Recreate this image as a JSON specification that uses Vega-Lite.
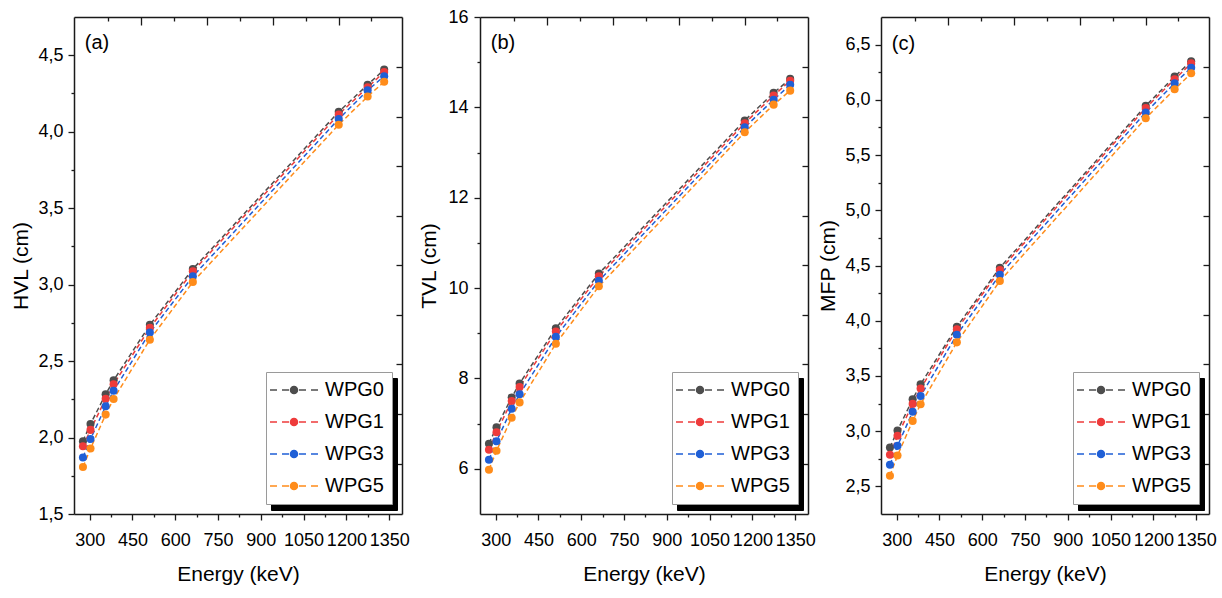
{
  "$schema": "https://vega.github.io/schema/vega-lite/v6.json",
  "padding": {"left": 10, "top": 8, "right": 5, "bottom": 5},
  "datasets": {
    "hvl": [
      {"E": 276.4, "s": "WPG0", "v": 1.976}, {"E": 276.4, "s": "WPG1", "v": 1.943}, {"E": 276.4, "s": "WPG3", "v": 1.870}, {"E": 276.4, "s": "WPG5", "v": 1.807},
      {"E": 302.9, "s": "WPG0", "v": 2.089}, {"E": 302.9, "s": "WPG1", "v": 2.050}, {"E": 302.9, "s": "WPG3", "v": 1.990}, {"E": 302.9, "s": "WPG5", "v": 1.928},
      {"E": 356.0, "s": "WPG0", "v": 2.283}, {"E": 356.0, "s": "WPG1", "v": 2.254}, {"E": 356.0, "s": "WPG3", "v": 2.204}, {"E": 356.0, "s": "WPG5", "v": 2.150},
      {"E": 383.9, "s": "WPG0", "v": 2.374}, {"E": 383.9, "s": "WPG1", "v": 2.348}, {"E": 383.9, "s": "WPG3", "v": 2.306}, {"E": 383.9, "s": "WPG5", "v": 2.252},
      {"E": 511.0, "s": "WPG0", "v": 2.737}, {"E": 511.0, "s": "WPG1", "v": 2.717}, {"E": 511.0, "s": "WPG3", "v": 2.687}, {"E": 511.0, "s": "WPG5", "v": 2.640},
      {"E": 661.7, "s": "WPG0", "v": 3.102}, {"E": 661.7, "s": "WPG1", "v": 3.087}, {"E": 661.7, "s": "WPG3", "v": 3.054}, {"E": 661.7, "s": "WPG5", "v": 3.017},
      {"E": 1173.2, "s": "WPG0", "v": 4.130}, {"E": 1173.2, "s": "WPG1", "v": 4.113}, {"E": 1173.2, "s": "WPG3", "v": 4.083}, {"E": 1173.2, "s": "WPG5", "v": 4.046},
      {"E": 1274.5, "s": "WPG0", "v": 4.307}, {"E": 1274.5, "s": "WPG1", "v": 4.290}, {"E": 1274.5, "s": "WPG3", "v": 4.270}, {"E": 1274.5, "s": "WPG5", "v": 4.230},
      {"E": 1332.5, "s": "WPG0", "v": 4.406}, {"E": 1332.5, "s": "WPG1", "v": 4.390}, {"E": 1332.5, "s": "WPG3", "v": 4.363}, {"E": 1332.5, "s": "WPG5", "v": 4.326}
    ],
    "tvl": [
      {"E": 276.4, "s": "WPG0", "v": 6.556}, {"E": 276.4, "s": "WPG1", "v": 6.42}, {"E": 276.4, "s": "WPG3", "v": 6.20}, {"E": 276.4, "s": "WPG5", "v": 5.98},
      {"E": 302.9, "s": "WPG0", "v": 6.92}, {"E": 302.9, "s": "WPG1", "v": 6.81}, {"E": 302.9, "s": "WPG3", "v": 6.61}, {"E": 302.9, "s": "WPG5", "v": 6.40},
      {"E": 356.0, "s": "WPG0", "v": 7.58}, {"E": 356.0, "s": "WPG1", "v": 7.50}, {"E": 356.0, "s": "WPG3", "v": 7.33}, {"E": 356.0, "s": "WPG5", "v": 7.13},
      {"E": 383.9, "s": "WPG0", "v": 7.89}, {"E": 383.9, "s": "WPG1", "v": 7.81}, {"E": 383.9, "s": "WPG3", "v": 7.65}, {"E": 383.9, "s": "WPG5", "v": 7.47},
      {"E": 511.0, "s": "WPG0", "v": 9.11}, {"E": 511.0, "s": "WPG1", "v": 9.04}, {"E": 511.0, "s": "WPG3", "v": 8.92}, {"E": 511.0, "s": "WPG5", "v": 8.77},
      {"E": 661.7, "s": "WPG0", "v": 10.32}, {"E": 661.7, "s": "WPG1", "v": 10.26}, {"E": 661.7, "s": "WPG3", "v": 10.16}, {"E": 661.7, "s": "WPG5", "v": 10.04},
      {"E": 1173.2, "s": "WPG0", "v": 13.71}, {"E": 1173.2, "s": "WPG1", "v": 13.65}, {"E": 1173.2, "s": "WPG3", "v": 13.56}, {"E": 1173.2, "s": "WPG5", "v": 13.45},
      {"E": 1274.5, "s": "WPG0", "v": 14.32}, {"E": 1274.5, "s": "WPG1", "v": 14.26}, {"E": 1274.5, "s": "WPG3", "v": 14.17}, {"E": 1274.5, "s": "WPG5", "v": 14.06},
      {"E": 1332.5, "s": "WPG0", "v": 14.63}, {"E": 1332.5, "s": "WPG1", "v": 14.59}, {"E": 1332.5, "s": "WPG3", "v": 14.50}, {"E": 1332.5, "s": "WPG5", "v": 14.37}
    ],
    "mfp": [
      {"E": 276.4, "s": "WPG0", "v": 2.852}, {"E": 276.4, "s": "WPG1", "v": 2.786}, {"E": 276.4, "s": "WPG3", "v": 2.696}, {"E": 276.4, "s": "WPG5", "v": 2.596},
      {"E": 302.9, "s": "WPG0", "v": 3.006}, {"E": 302.9, "s": "WPG1", "v": 2.958}, {"E": 302.9, "s": "WPG3", "v": 2.867}, {"E": 302.9, "s": "WPG5", "v": 2.780},
      {"E": 356.0, "s": "WPG0", "v": 3.289}, {"E": 356.0, "s": "WPG1", "v": 3.247}, {"E": 356.0, "s": "WPG3", "v": 3.175}, {"E": 356.0, "s": "WPG5", "v": 3.093},
      {"E": 383.9, "s": "WPG0", "v": 3.425}, {"E": 383.9, "s": "WPG1", "v": 3.386}, {"E": 383.9, "s": "WPG3", "v": 3.319}, {"E": 383.9, "s": "WPG5", "v": 3.244},
      {"E": 511.0, "s": "WPG0", "v": 3.946}, {"E": 511.0, "s": "WPG1", "v": 3.922}, {"E": 511.0, "s": "WPG3", "v": 3.873}, {"E": 511.0, "s": "WPG5", "v": 3.804},
      {"E": 661.7, "s": "WPG0", "v": 4.480}, {"E": 661.7, "s": "WPG1", "v": 4.458}, {"E": 661.7, "s": "WPG3", "v": 4.416}, {"E": 661.7, "s": "WPG5", "v": 4.360},
      {"E": 1173.2, "s": "WPG0", "v": 5.946}, {"E": 1173.2, "s": "WPG1", "v": 5.925}, {"E": 1173.2, "s": "WPG3", "v": 5.886}, {"E": 1173.2, "s": "WPG5", "v": 5.834},
      {"E": 1274.5, "s": "WPG0", "v": 6.211}, {"E": 1274.5, "s": "WPG1", "v": 6.187}, {"E": 1274.5, "s": "WPG3", "v": 6.150}, {"E": 1274.5, "s": "WPG5", "v": 6.096},
      {"E": 1332.5, "s": "WPG0", "v": 6.350}, {"E": 1332.5, "s": "WPG1", "v": 6.330}, {"E": 1332.5, "s": "WPG3", "v": 6.290}, {"E": 1332.5, "s": "WPG5", "v": 6.240}
    ]
  },
  "spacing": 8,
  "resolve": {"scale": {"color": "independent", "shape": "independent"}, "legend": {"color": "independent", "shape": "independent"}},
  "hconcat": [
    {
      "width": 328, "height": 497,
      "data": {"name": "hvl"},
      "resolve": {"axis": {"x": "independent", "y": "independent"}},
      "layer": [
        {
          "mark": {"type": "line", "strokeDash": [5, 3], "strokeWidth": 1.5},
          "encoding": {
            "x": {"field": "E", "type": "quantitative", "scale": {"domain": [245, 1395], "nice": false, "zero": false},
              "axis": {"orient": "bottom", "values": [300, 450, 600, 750, 900, 1050, 1200, 1350], "format": "d", "title": "Energy (keV)", "tickSize": 6, "labelPadding": 11, "titlePadding": 14}},
            "y": {"field": "v", "type": "quantitative", "scale": {"domain": [1.5, 4.75], "nice": false, "zero": false},
              "axis": {"orient": "left", "values": [1.5, 2, 2.5, 3, 3.5, 4, 4.5], "labelExpr": "replace(format(datum.value, '.1f'), '.', ',')", "title": "HVL (cm)", "tickSize": 6, "labelPadding": 5, "titlePadding": 6}},
            "color": {"field": "s", "type": "nominal", "scale": {"domain": ["WPG0", "WPG1", "WPG3", "WPG5"], "range": ["#4d4d4d", "#ee3b3b", "#1f5fd6", "#ff8c1a"]},
              "legend": {"title": null, "orient": "bottom-right", "offset": 10, "zindex": 2, "fillColor": "white", "strokeColor": "#9a9a9a", "symbolType": "M-24 0H-17M-12 0H-5M5 0H12M17 0H24M-3.5 0A3.5 3.5 0 1 1 3.5 0A3.5 3.5 0 1 1 -3.5 0ZM-2 0A2 2 0 1 1 2 0A2 2 0 1 1 -2 0ZM-0.7 0A0.7 0.7 0 1 1 0.7 0A0.7 0.7 0 1 1 -0.7 0Z", "symbolSize": 4, "symbolStrokeWidth": 1.5, "symbolOffset": 10, "labelOffset": 21}}
          }
        },
        {
          "mark": {"type": "point", "filled": true, "size": 65, "opacity": 1},
          "encoding": {
            "x": {"field": "E", "type": "quantitative", "axis": null},
            "y": {"field": "v", "type": "quantitative", "axis": null},
            "color": {"field": "s", "type": "nominal",
              "legend": {"title": null, "orient": "bottom-right", "offset": 10, "zindex": 2, "fillColor": "white", "strokeColor": "#9a9a9a", "symbolType": "M-24 0H-17M-12 0H-5M5 0H12M17 0H24M-3.5 0A3.5 3.5 0 1 1 3.5 0A3.5 3.5 0 1 1 -3.5 0ZM-2 0A2 2 0 1 1 2 0A2 2 0 1 1 -2 0ZM-0.7 0A0.7 0.7 0 1 1 0.7 0A0.7 0.7 0 1 1 -0.7 0Z", "symbolSize": 4, "symbolStrokeWidth": 1.5, "symbolOffset": 10, "labelOffset": 21}}
          }
        },
        {
          "mark": {"type": "point", "opacity": 0, "size": 0.01},
          "encoding": {
            "x": {"field": "E", "type": "quantitative", "axis": {"orient": "bottom", "values": [375, 525, 675, 825, 975, 1125, 1275], "labels": false, "domain": false, "tickSize": 3, "title": null}},
            "y": {"field": "v", "type": "quantitative", "axis": {"orient": "left", "values": [1.75, 2.25, 2.75, 3.25, 3.75, 4.25], "labels": false, "domain": false, "tickSize": 3, "title": null}},
            "shape": {"field": "s", "type": "nominal", "scale": {"range": ["M-24 0H24", "M-24 0H24", "M-24 0H24", "M-24 0H24"]},
              "legend": {"title": null, "orient": "none", "legendX": 197, "legendY": 361, "zindex": 1, "fillColor": "black", "strokeColor": "black", "labelColor": "black", "symbolSize": 4, "symbolStrokeWidth": 1.5, "symbolOffset": 10, "labelOffset": 21}}
          }
        },
        {
          "mark": {"type": "point", "opacity": 0},
          "encoding": {
            "x": {"field": "E", "type": "quantitative", "axis": {"orient": "top", "values": [480, 711, 942, 1173], "labels": false, "domain": true, "tickSize": -8, "title": null}},
            "y": {"field": "v", "type": "quantitative", "axis": {"orient": "right", "values": [4.423, 4.099, 3.775, 3.451, 3.126, 2.802, 2.478, 2.154, 1.830], "labels": false, "domain": true, "tickSize": -6, "title": null}}
          }
        },
        {
          "mark": {"type": "point", "opacity": 0},
          "encoding": {
            "x": {"field": "E", "type": "quantitative", "axis": {"orient": "top", "values": [365, 597, 828, 1058, 1286], "labels": false, "domain": false, "tickSize": -4, "title": null}},
            "y": {"field": "v", "type": "quantitative", "axis": null}
          }
        },
        {
          "data": {"values": [{"t": "(a)", "E": 283, "v": 4.58}]},
          "mark": {"type": "text", "align": "left", "baseline": "middle", "fontSize": 20, "color": "black"},
          "encoding": {
            "x": {"field": "E", "type": "quantitative", "axis": null},
            "y": {"field": "v", "type": "quantitative", "axis": null},
            "text": {"field": "t"}
          }
        }
      ]
    },
    {
      "spacing": 1,
      "resolve": {"scale": {"color": "independent", "shape": "independent"}, "legend": {"color": "independent", "shape": "independent"}},
      "hconcat": [
        {
          "width": 328, "height": 497,
          "data": {"name": "tvl"},
          "resolve": {"axis": {"x": "independent", "y": "independent"}},
          "layer": [
            {
              "mark": {"type": "line", "strokeDash": [5, 3], "strokeWidth": 1.5},
              "encoding": {
                "x": {"field": "E", "type": "quantitative", "scale": {"domain": [245, 1395], "nice": false, "zero": false},
                  "axis": {"orient": "bottom", "values": [300, 450, 600, 750, 900, 1050, 1200, 1350], "format": "d", "title": "Energy (keV)", "tickSize": 6, "labelPadding": 11, "titlePadding": 14}},
                "y": {"field": "v", "type": "quantitative", "scale": {"domain": [5, 16], "nice": false, "zero": false},
                  "axis": {"orient": "left", "values": [6, 8, 10, 12, 14, 16], "format": "d", "title": "TVL (cm)", "tickSize": 6, "labelPadding": 6, "titlePadding": 8}},
                "color": {"field": "s", "type": "nominal", "scale": {"domain": ["WPG0", "WPG1", "WPG3", "WPG5"], "range": ["#4d4d4d", "#ee3b3b", "#1f5fd6", "#ff8c1a"]},
                  "legend": {"title": null, "orient": "bottom-right", "offset": 10, "zindex": 2, "fillColor": "white", "strokeColor": "#9a9a9a", "symbolType": "M-24 0H-17M-12 0H-5M5 0H12M17 0H24M-3.5 0A3.5 3.5 0 1 1 3.5 0A3.5 3.5 0 1 1 -3.5 0ZM-2 0A2 2 0 1 1 2 0A2 2 0 1 1 -2 0ZM-0.7 0A0.7 0.7 0 1 1 0.7 0A0.7 0.7 0 1 1 -0.7 0Z", "symbolSize": 4, "symbolStrokeWidth": 1.5, "symbolOffset": 10, "labelOffset": 21}}
              }
            },
            {
              "mark": {"type": "point", "filled": true, "size": 65, "opacity": 1},
              "encoding": {
                "x": {"field": "E", "type": "quantitative", "axis": null},
                "y": {"field": "v", "type": "quantitative", "axis": null},
                "color": {"field": "s", "type": "nominal",
                  "legend": {"title": null, "orient": "bottom-right", "offset": 10, "zindex": 2, "fillColor": "white", "strokeColor": "#9a9a9a", "symbolType": "M-24 0H-17M-12 0H-5M5 0H12M17 0H24M-3.5 0A3.5 3.5 0 1 1 3.5 0A3.5 3.5 0 1 1 -3.5 0ZM-2 0A2 2 0 1 1 2 0A2 2 0 1 1 -2 0ZM-0.7 0A0.7 0.7 0 1 1 0.7 0A0.7 0.7 0 1 1 -0.7 0Z", "symbolSize": 4, "symbolStrokeWidth": 1.5, "symbolOffset": 10, "labelOffset": 21}}
              }
            },
            {
              "mark": {"type": "point", "opacity": 0, "size": 0.01},
              "encoding": {
                "x": {"field": "E", "type": "quantitative", "axis": {"orient": "bottom", "values": [375, 525, 675, 825, 975, 1125, 1275], "labels": false, "domain": false, "tickSize": 3, "title": null}},
                "y": {"field": "v", "type": "quantitative", "axis": {"orient": "left", "values": [7, 9, 11, 13, 15], "labels": false, "domain": false, "tickSize": 3, "title": null}},
                "shape": {"field": "s", "type": "nominal", "scale": {"range": ["M-24 0H24", "M-24 0H24", "M-24 0H24", "M-24 0H24"]},
                  "legend": {"title": null, "orient": "none", "legendX": 197, "legendY": 361, "zindex": 1, "fillColor": "black", "strokeColor": "black", "labelColor": "black", "symbolSize": 4, "symbolStrokeWidth": 1.5, "symbolOffset": 10, "labelOffset": 21}}
              }
            },
            {
              "mark": {"type": "point", "opacity": 0},
              "encoding": {
                "x": {"field": "E", "type": "quantitative", "axis": {"orient": "top", "values": [480, 711, 942, 1173], "labels": false, "domain": true, "tickSize": -8, "title": null}},
                "y": {"field": "v", "type": "quantitative", "axis": {"orient": "right", "values": [14.894, 13.796, 12.699, 11.602, 10.505, 9.407, 8.310, 7.213, 6.115], "labels": false, "domain": true, "tickSize": -6, "title": null}}
              }
            },
            {
              "mark": {"type": "point", "opacity": 0},
              "encoding": {
                "x": {"field": "E", "type": "quantitative", "axis": {"orient": "top", "values": [365, 597, 828, 1058, 1286], "labels": false, "domain": false, "tickSize": -4, "title": null}},
                "y": {"field": "v", "type": "quantitative", "axis": null}
              }
            },
            {
              "data": {"values": [{"t": "(b)", "E": 283, "v": 15.42}]},
              "mark": {"type": "text", "align": "left", "baseline": "middle", "fontSize": 20, "color": "black"},
              "encoding": {
                "x": {"field": "E", "type": "quantitative", "axis": null},
                "y": {"field": "v", "type": "quantitative", "axis": null},
                "text": {"field": "t"}
              }
            }
          ]
        },
        {
          "width": 328, "height": 497,
          "data": {"name": "mfp"},
          "resolve": {"axis": {"x": "independent", "y": "independent"}},
          "layer": [
            {
              "mark": {"type": "line", "strokeDash": [5, 3], "strokeWidth": 1.5},
              "encoding": {
                "x": {"field": "E", "type": "quantitative", "scale": {"domain": [245, 1395], "nice": false, "zero": false},
                  "axis": {"orient": "bottom", "values": [300, 450, 600, 750, 900, 1050, 1200, 1350], "format": "d", "title": "Energy (keV)", "tickSize": 6, "labelPadding": 11, "titlePadding": 14}},
                "y": {"field": "v", "type": "quantitative", "scale": {"domain": [2.25, 6.75], "nice": false, "zero": false},
                  "axis": {"orient": "left", "values": [2.5, 3, 3.5, 4, 4.5, 5, 5.5, 6, 6.5], "labelExpr": "replace(format(datum.value, '.1f'), '.', ',')", "title": "MFP (cm)", "tickSize": 6, "labelPadding": 5, "titlePadding": 6}},
                "color": {"field": "s", "type": "nominal", "scale": {"domain": ["WPG0", "WPG1", "WPG3", "WPG5"], "range": ["#4d4d4d", "#ee3b3b", "#1f5fd6", "#ff8c1a"]},
                  "legend": {"title": null, "orient": "bottom-right", "offset": 10, "zindex": 2, "fillColor": "white", "strokeColor": "#9a9a9a", "symbolType": "M-24 0H-17M-12 0H-5M5 0H12M17 0H24M-3.5 0A3.5 3.5 0 1 1 3.5 0A3.5 3.5 0 1 1 -3.5 0ZM-2 0A2 2 0 1 1 2 0A2 2 0 1 1 -2 0ZM-0.7 0A0.7 0.7 0 1 1 0.7 0A0.7 0.7 0 1 1 -0.7 0Z", "symbolSize": 4, "symbolStrokeWidth": 1.5, "symbolOffset": 10, "labelOffset": 21}}
              }
            },
            {
              "mark": {"type": "point", "filled": true, "size": 65, "opacity": 1},
              "encoding": {
                "x": {"field": "E", "type": "quantitative", "axis": null},
                "y": {"field": "v", "type": "quantitative", "axis": null},
                "color": {"field": "s", "type": "nominal",
                  "legend": {"title": null, "orient": "bottom-right", "offset": 10, "zindex": 2, "fillColor": "white", "strokeColor": "#9a9a9a", "symbolType": "M-24 0H-17M-12 0H-5M5 0H12M17 0H24M-3.5 0A3.5 3.5 0 1 1 3.5 0A3.5 3.5 0 1 1 -3.5 0ZM-2 0A2 2 0 1 1 2 0A2 2 0 1 1 -2 0ZM-0.7 0A0.7 0.7 0 1 1 0.7 0A0.7 0.7 0 1 1 -0.7 0Z", "symbolSize": 4, "symbolStrokeWidth": 1.5, "symbolOffset": 10, "labelOffset": 21}}
              }
            },
            {
              "mark": {"type": "point", "opacity": 0, "size": 0.01},
              "encoding": {
                "x": {"field": "E", "type": "quantitative", "axis": {"orient": "bottom", "values": [375, 525, 675, 825, 975, 1125, 1275], "labels": false, "domain": false, "tickSize": 3, "title": null}},
                "y": {"field": "v", "type": "quantitative", "axis": {"orient": "left", "values": [2.75, 3.25, 3.75, 4.25, 4.75, 5.25, 5.75, 6.25], "labels": false, "domain": false, "tickSize": 3, "title": null}},
                "shape": {"field": "s", "type": "nominal", "scale": {"range": ["M-24 0H24", "M-24 0H24", "M-24 0H24", "M-24 0H24"]},
                  "legend": {"title": null, "orient": "none", "legendX": 197, "legendY": 361, "zindex": 1, "fillColor": "black", "strokeColor": "black", "labelColor": "black", "symbolSize": 4, "symbolStrokeWidth": 1.5, "symbolOffset": 10, "labelOffset": 21}}
              }
            },
            {
              "mark": {"type": "point", "opacity": 0},
              "encoding": {
                "x": {"field": "E", "type": "quantitative", "axis": {"orient": "top", "values": [480, 711, 942, 1173], "labels": false, "domain": true, "tickSize": -8, "title": null}},
                "y": {"field": "v", "type": "quantitative", "axis": {"orient": "right", "values": [6.298, 5.849, 5.400, 4.951, 4.502, 4.053, 3.604, 3.155, 2.706], "labels": false, "domain": true, "tickSize": -6, "title": null}}
              }
            },
            {
              "mark": {"type": "point", "opacity": 0},
              "encoding": {
                "x": {"field": "E", "type": "quantitative", "axis": {"orient": "top", "values": [365, 597, 828, 1058, 1286], "labels": false, "domain": false, "tickSize": -4, "title": null}},
                "y": {"field": "v", "type": "quantitative", "axis": null}
              }
            },
            {
              "data": {"values": [{"t": "(c)", "E": 283, "v": 6.51}]},
              "mark": {"type": "text", "align": "left", "baseline": "middle", "fontSize": 20, "color": "black"},
              "encoding": {
                "x": {"field": "E", "type": "quantitative", "axis": null},
                "y": {"field": "v", "type": "quantitative", "axis": null},
                "text": {"field": "t"}
              }
            }
          ]
        }
      ]
    }
  ],
  "config": {
    "font": "Liberation Sans",
    "view": {"stroke": null},
    "axis": {"grid": false, "domainColor": "#1a1a1a", "domainWidth": 1.5, "tickColor": "#1a1a1a", "tickWidth": 1.3, "labelFontSize": 18, "labelColor": "black", "labelFont": "Liberation Sans", "titleFont": "Liberation Sans", "titleFontSize": 21, "titleFontWeight": "normal", "titleColor": "black", "labelOverlap": false, "labelFlush": false},
    "legend": {"labelFontSize": 20, "labelFont": "Liberation Sans", "labelColor": "black", "padding": 8, "rowPadding": 12, "labelLimit": 200}
  }
}
